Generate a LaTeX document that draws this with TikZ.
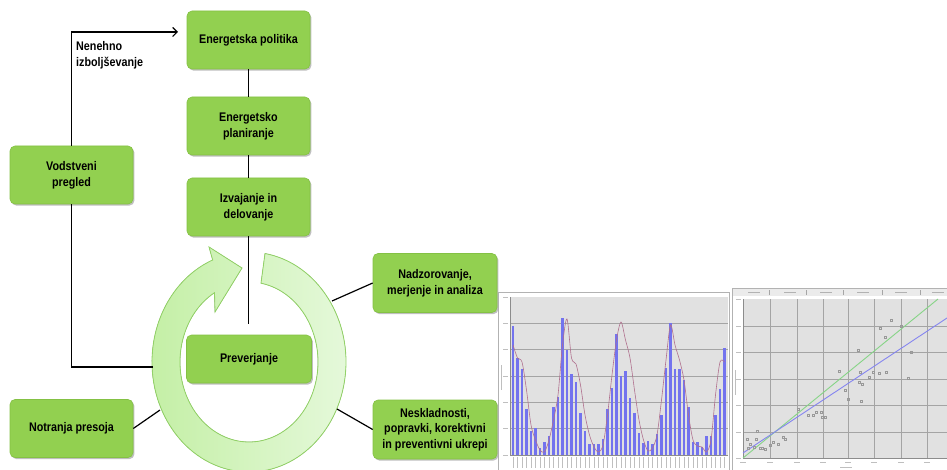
\documentclass[tikz,border=0pt]{standalone}
\usepackage{fontspec}
\setmainfont{Liberation Sans}[FakeStretch=0.86]
\usetikzlibrary{arrows.meta,shadows}
\definecolor{boxgreen}{HTML}{92D050}
\definecolor{boxedge}{HTML}{84C144}
\definecolor{ringL}{HTML}{C3EFA4}
\definecolor{ringR}{HTML}{E6F9DC}
\definecolor{ringedge}{HTML}{92D366}
\definecolor{plotgray}{HTML}{E1E1E1}
\definecolor{gridgray}{HTML}{A4A4A4}
\definecolor{barblue}{HTML}{7373EE}
\definecolor{avgline}{HTML}{B0708E}
\definecolor{fitgreen}{HTML}{86D486}
\definecolor{fitblue}{HTML}{8585F0}
\tikzset{
  box/.style={draw=boxedge, line width=0.6pt, fill=boxgreen, rounded corners=5pt,
    minimum width=123pt, minimum height=58pt, align=center, inner sep=2pt,
    font=\fontsize{12.5}{16}\selectfont\bfseries,
    drop shadow={shadow xshift=1.4pt, shadow yshift=-1.6pt, opacity=0.45, fill=black!55}},
  conn/.style={draw=black, line width=1.2pt},
  lbl/.style={align=left, inner sep=0pt, font=\fontsize{12.5}{16}\selectfont\bfseries},
  tinylab/.style={draw=black!25, line width=0.5pt},
}
\begin{document}
\begin{tikzpicture}[x=1pt, y=-1pt]
\useasboundingbox (0,0) rectangle (947,470);
\fill[white] (0,0) rectangle (947,470);

% ---------- circular arrow ----------
\fill[left color=ringL, right color=ringR, draw=ringedge, line width=0.8pt]
  (265,253.5) arc[start angle=-80.5, end angle=248, x radius=97, y radius=110]
  -- (209,247) -- (242,268) -- (215,312)
  -- (214.5,292.7) arc[start angle=240, end angle=-80, x radius=69, y radius=80]
  -- cycle;

% ---------- boxes ----------
\node[box] (pol) at (248.5,40) {Energetska politika};
\node[box] (plan) at (248.5,126) {Energetsko\\planiranje};
\node[box] (izv) at (248.5,207) {Izvajanje in\\delovanje};
\node[box] (vod) at (71.5,175) {Vodstveni\\pregled};
\node[box, minimum width=125pt, minimum height=48pt] (prev) at (249,359) {Preverjanje};
\node[box, minimum width=124pt, minimum height=59pt] (nad) at (435,283) {Nadzorovanje,\\merjenje in analiza};
\node[box, minimum width=124pt, minimum height=59pt, font=\fontsize{12.5}{15.5}\selectfont\bfseries] (nes) at (435,429.5) {Neskladnosti,\\popravki, korektivni\\in preventivni ukrepi};
\node[box] (not) at (71.5,428.5) {Notranja presoja};

\node[lbl, anchor=north west] (nen) at (76,41) {Nenehno\\izboljševanje};

% ---------- connectors ----------
\coordinate (izvEnd) at (248.5,324);
\coordinate (arrEnd) at (178,32);
\coordinate (ringW) at (153,367);
\coordinate (ringSW) at (160,410);
\coordinate (ringNE) at (332,301);
\coordinate (ringSE) at (337,409);
\draw[conn] (pol) -- (plan);
\draw[conn] (plan) -- (izv);
\draw[conn] (izv.south) -- (izvEnd);
\draw[conn, -{Straight Barb[length=4.5pt, width=9pt]}] (vod.north) |- (arrEnd);
\draw[conn] (vod.south) |- (ringW);
\draw[conn] (not.east) -- (ringSW);
\draw[conn] (nad.west) -- (ringNE);
\draw[conn] (nes.west) -- (ringSE);

% ---------- left chart (bar chart screenshot) ----------
\fill[white, draw=black!30, line width=0.6pt] (498,292) rectangle (729,471);
\fill[plotgray] (510,297) rectangle (728,455);
\foreach \k in {1,...,5} \draw[gridgray, line width=0.8pt] (510,{297+26.33*\k}) -- (728,{297+26.33*\k});
\draw[black!45, line width=0.5pt] (510,297) -- (510,455) -- (728,455);
\foreach \k in {0,...,6} \draw[tinylab] (503,{297+26.33*\k}) -- (508,{297+26.33*\k});
\draw[tinylab] (501,365) -- (501,390);
\foreach \h [count=\i from 0] in {326,358,369,409,431,428,448,442,436,407,397,318,350,374,382,413,431,444,444,444,439,409,388,334,376,371,398,413,433,443,441,444,434,415,368,323,369,369,380,407,442,442,447,436,436,415,389,348}
  { \fill[barblue] ({513+4.5*\i-1.3},455) rectangle ({513+4.5*\i+1.3},\h);
    \draw[tinylab] ({513+4.5*\i},457) -- ({513+4.5*\i},468); }
\draw[avgline, line width=0.6pt] plot[smooth, tension=0.5] coordinates {
 (513,345) (517.5,358) (522,362) (526.5,390) (531,425) (535.5,440) (540,450) (544.5,452)
 (549,440) (553.5,420) (558,395) (562.5,345) (567,319) (571.5,358) (576,364) (580.5,385)
 (585,415) (589.5,435) (594,447) (598.5,452) (603,445) (607.5,415) (612,375) (616.5,340)
 (621,322) (625.5,340) (630,358) (634.5,390) (639,420) (643.5,440) (648,451) (652.5,448)
 (657,435) (661.5,400) (666,360) (670.5,325) (675,345) (679.5,360) (684,380) (688.5,415)
 (693,440) (697.5,446) (702,447) (706.5,452) (711,440) (715.5,395) (720,362) (724.5,362)};

% ---------- right chart (scatter screenshot) ----------
\fill[white, draw=black!30, line width=0.6pt] (732,288) rectangle (948,471);
\fill[black!8] (733,289) rectangle (947,296);
\foreach \x in {769,806,843,882,920} \draw[black!35, line width=0.5pt] (\x,290) -- (\x,295);
\foreach \x in {748,784,820,857,895,932} \draw[black!30, line width=0.6pt] (\x,292.5) -- (\x+12,292.5);
\fill[plotgray] (743,299) rectangle (947,458);
\foreach \x in {770,797,823,848,874,901,927} \draw[gridgray, line width=0.8pt] (\x,299) -- (\x,458);
\foreach \y in {326,352,379,405,432} \draw[gridgray, line width=0.8pt] (743,\y) -- (947,\y);
\draw[black!45, line width=0.5pt] (743,299) -- (743,458) -- (947,458);
\foreach \y in {299,326,352,379,405,432,458} \draw[tinylab] (736,\y) -- (741,\y);
\foreach \x in {743,770,797,823,848,874,901,927} \draw[tinylab] (\x-3,462) -- (\x+3,462);
\draw[tinylab] (840,467) -- (852,467);
\draw[tinylab] (735,370) -- (735,395);
\draw[fitgreen, line width=0.9pt] (743,458) -- (938,299);
\draw[fitblue, line width=0.9pt] (743,453) -- (947,318);
\foreach \p in {(748,448),(747,439),(750,444),(754,447),(757,431),(760,448),(756,439),(762,448),
  (765,449),(770,445),(773,442),(778,444),(783,437),(785,439),(798,409),(808,415),(813,415),
  (816,412),(822,417),(825,417),(821,412),(839,371),(845,390),(848,399),(858,350),(860,372),
  (859,382),(862,384),(861,401),(869,377),(873,372),(879,373),(880,328),(885,337),(886,372),
  (891,320),(901,326),(908,378),(911,352)}
  \draw[black!40, line width=0.4pt] \p ++(-0.9,-0.9) rectangle ++(1.8,1.8);
\end{tikzpicture}
\end{document}
